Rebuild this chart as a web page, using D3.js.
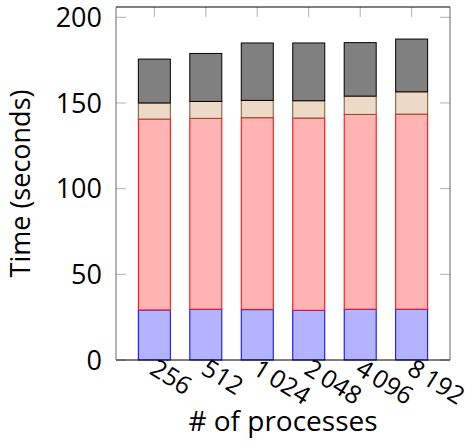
<!DOCTYPE html>
<html>
<head>
<meta charset="utf-8">
<script src="https://cdn.jsdelivr.net/npm/d3@7"></script>
<style>
  body { margin: 0; background: #fff; }
  text { font-family: "Open Sans", "DejaVu Sans", sans-serif; fill: #000; }
</style>
</head>
<body>
<div id="chart"></div>
<script>
// data
const procs = ["256", "512", "1\u2009024", "2\u2009048", "4\u2009096", "8\u2009192"];
const partA = [29.2, 29.6, 29.4, 29.0, 29.6, 29.6];       // blue
const partB = [111.4, 111.4, 112.0, 112.2, 113.7, 113.9]; // red
const partC = [9.4, 9.9, 10.1, 10.1, 10.7, 13.0];         // tan
const partD = [25.6, 28.0, 33.5, 33.7, 31.2, 30.8];       // gray
const yTicks = [0, 50, 100, 150, 200];

const series = [
    { key: "a", vals: partA, fill: "#b3b3ff", stroke: "#0000ff" },
    { key: "b", vals: partB, fill: "#ffb3b3", stroke: "#ff0000" },
    { key: "c", vals: partC, fill: "#ecd9c6", stroke: "#7a5530" },
    { key: "d", vals: partD, fill: "#808080", stroke: "#000000" }
];

const rows = procs.map((p, i) => {
    const r = { p: p };
    series.forEach(s => r[s.key] = s.vals[i]);
    return r;
});
const stacked = d3.stack().keys(series.map(s => s.key))(rows);

const W = 476, H = 444;
const pLeft = 116, pRight = 450, pTop = 7, pBottom = 360;

const svg = d3.select("#chart").append("svg")
    .attr("width", W)
    .attr("height", H);

const x = d3.scalePoint()
    .domain(procs)
    .range([pLeft, pRight])
    .padding(0.745);

const y = d3.scaleLinear()
    .domain([0, 206])
    .range([pBottom, pTop]);

const barW = 32;

// bars
stacked.forEach((layer, k) => {
    svg.append("g").selectAll("rect")
        .data(layer)
        .enter()
        .append("rect")
        .attr("x", d => x(d.data.p) - barW / 2)
        .attr("y", d => y(d[1]))
        .attr("width", barW)
        .attr("height", d => y(d[0]) - y(d[1]))
        .style("fill", series[k].fill)
        .style("stroke", series[k].stroke)
        .style("stroke-width", 1);
});

// ticks, inward on all sides
const tickLen = 10;
const ticks = svg.append("g").style("stroke", "#b0b0b0").style("stroke-width", 1);
yTicks.forEach(t => {
    ticks.append("line").attr("x1", pLeft).attr("x2", pLeft + tickLen).attr("y1", y(t)).attr("y2", y(t));
    ticks.append("line").attr("x1", pRight).attr("x2", pRight - tickLen).attr("y1", y(t)).attr("y2", y(t));
});
procs.forEach(p => {
    ticks.append("line").attr("x1", x(p)).attr("x2", x(p)).attr("y1", pTop).attr("y2", pTop + tickLen);
});

// frame
svg.append("line").attr("x1", pLeft).attr("x2", pRight).attr("y1", pTop).attr("y2", pTop).style("stroke", "#000");
svg.append("line").attr("x1", pLeft).attr("x2", pRight).attr("y1", pBottom).attr("y2", pBottom).style("stroke", "#000");
svg.append("line").attr("x1", pLeft).attr("x2", pLeft).attr("y1", pTop).attr("y2", pBottom).style("stroke", "#666");
svg.append("line").attr("x1", pRight).attr("x2", pRight).attr("y1", pTop).attr("y2", pBottom).style("stroke", "#666");

// y tick labels
svg.selectAll(".ylab")
    .data(yTicks)
    .enter()
    .append("text")
    .attr("class", "ylab")
    .attr("x", pLeft - 14)
    .attr("y", d => y(d))
    .attr("dy", "0.36em")
    .style("text-anchor", "end")
    .style("font-size", "27px")
    .text(d => d);

// x tick labels, rotated
svg.selectAll(".xlab")
    .data(procs)
    .enter()
    .append("text")
    .attr("class", "xlab")
    .attr("transform", d => "translate(" + (x(d) - 6) + "," + 373 + ") rotate(32)")
    .style("text-anchor", "start")
    .style("font-size", "25px")
    .text(d => d);

// axis titles
svg.append("text")
    .attr("x", (pLeft + pRight) / 2)
    .attr("y", 431)
    .style("text-anchor", "middle")
    .style("font-size", "28px")
    .text("# of processes");

svg.append("text")
    .attr("transform", "translate(30," + (pTop + pBottom) / 2 + ") rotate(-90)")
    .style("text-anchor", "middle")
    .style("font-size", "27px")
    .text("Time (seconds)");
</script>
</body>
</html>
